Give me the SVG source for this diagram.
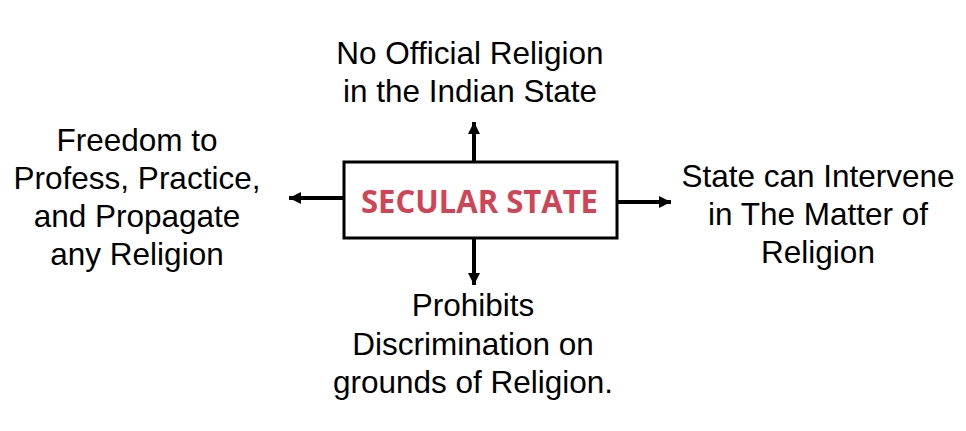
<svg xmlns="http://www.w3.org/2000/svg" width="966" height="431" viewBox="0 0 966 431">
<style>
.lbl{font-family:"Liberation Sans",Arial,sans-serif;font-size:31.5px;fill:#000;text-anchor:middle}
.title{font-family:"Open Sans","Liberation Sans",sans-serif;font-size:33px;font-weight:700;fill:#D04455;text-anchor:start}
.conn{stroke:#000;stroke-width:4;fill:none;marker-end:url(#ah)}
</style>
<defs>
<marker id="ah" viewBox="0 0 12 12" refX="12" refY="6" markerWidth="12" markerHeight="12" markerUnits="userSpaceOnUse" orient="auto">
<path d="M0,0 L12,6 L0,12 Z" fill="#000"/>
</marker>
</defs>
<rect width="966" height="431" fill="#fff"/>
<g id="connectors">
<line class="conn" x1="474" y1="161" x2="474" y2="122"/>
<line class="conn" x1="474" y1="239" x2="474" y2="285"/>
<line class="conn" x1="343" y1="198" x2="289" y2="198"/>
<line class="conn" x1="618" y1="202" x2="671" y2="202"/>
</g>
<g id="secular-state">
<rect x="344" y="162" width="273" height="76" fill="#fff" stroke="#000" stroke-width="3"/>
<text class="title" x="361" y="213" textLength="237" lengthAdjust="spacingAndGlyphs">SECULAR STATE</text>
</g>
<g id="no-official-religion">
<text class="lbl" x="470" y="64">No Official Religion</text>
<text class="lbl" x="470" y="102">in the Indian State</text>
</g>
<g id="freedom">
<text class="lbl" x="137" y="151">Freedom to</text>
<text class="lbl" x="137" y="189">Profess, Practice,</text>
<text class="lbl" x="137" y="227">and Propagate</text>
<text class="lbl" x="137" y="265">any Religion</text>
</g>
<g id="state-intervene">
<text class="lbl" x="818" y="187">State can Intervene</text>
<text class="lbl" x="818" y="225">in The Matter of</text>
<text class="lbl" x="818" y="263">Religion</text>
</g>
<g id="prohibits">
<text class="lbl" x="473" y="316">Prohibits</text>
<text class="lbl" x="473" y="355">Discrimination on</text>
<text class="lbl" x="473" y="393">grounds of Religion.</text>
</g>
</svg>
